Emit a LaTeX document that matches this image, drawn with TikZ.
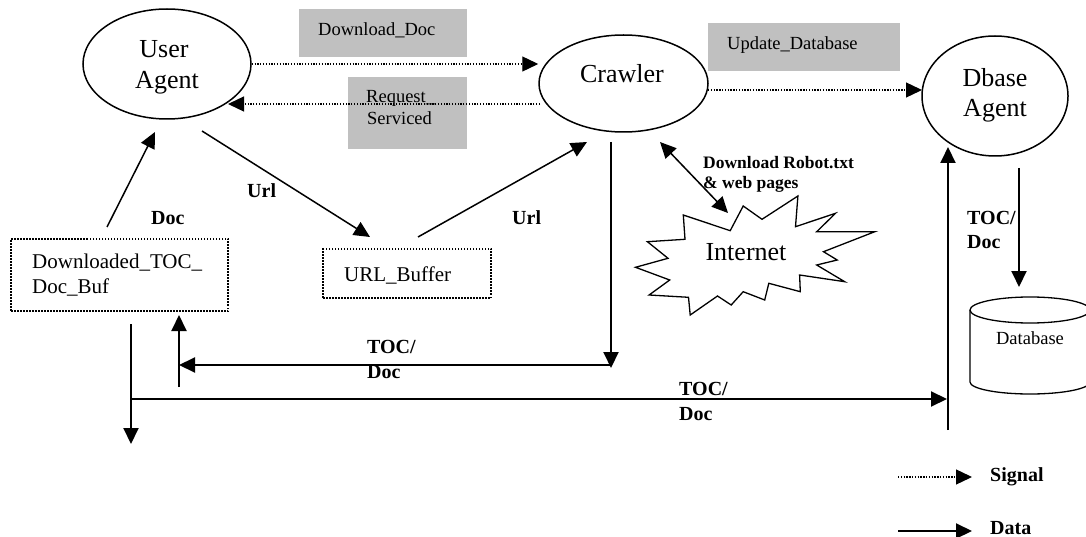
\documentclass[tikz,border=0pt]{standalone}
\usepackage{fontspec}
\setmainfont{Liberation Serif}
\usetikzlibrary{arrows.meta,shapes.geometric}
\definecolor{boxgray}{RGB}{192,192,192}
\begin{document}
\begin{tikzpicture}[x=1pt,y=-1pt,
  bigtxt/.style={font=\fontsize{26}{31}\selectfont, inner sep=0pt},
  boxtxt/.style={font=\fontsize{21}{24}\selectfont, inner sep=0pt},
  graytxt/.style={font=\fontsize{18.5}{22}\selectfont, inner sep=0pt},
  lbl/.style={font=\bfseries\fontsize{20}{24}\selectfont, inner sep=0pt},
  smalllbl/.style={font=\bfseries\fontsize{17.5}{20}\selectfont, inner sep=0pt},
  agent/.style={draw, ellipse, line width=1.5pt, inner sep=0pt},
  graybox/.style={fill=boxgray, draw=none, inner sep=0pt},
  bufbox/.style={draw, line width=1.3pt, dash pattern=on 1.5pt off 1.5pt, inner sep=0pt},
  signal/.style={line width=1.3pt, dash pattern=on 1.3pt off 1.5pt, -{Triangle[length=16pt,width=15pt]}},
  data/.style={line width=2pt, -{Triangle[length=16pt,width=15pt]}},
  thinarrow/.style={line width=1.5pt, -{Triangle[length=16pt,width=15pt]}},
]
\useasboundingbox (0,0) rectangle (1086,537);
\fill[white] (0,0) rectangle (1086,537);
\clip (0,0) rectangle (1086,537);

% gray label boxes
\node[graybox, minimum width=168pt, minimum height=48pt] (dlbox) at (383,33) {};
\node[graybox, minimum width=119pt, minimum height=72pt] (rqbox) at (407.5,113) {};
\node[graybox, minimum width=192pt, minimum height=48pt] (upbox) at (804,47) {};

% agents
\node[agent, minimum width=168pt, minimum height=110pt] (ua) at (167,64) {};
\node[agent, minimum width=169pt, minimum height=97pt] (crawler) at (623.5,83.5) {};
\node[agent, minimum width=146pt, minimum height=120pt] (dbase) at (995,96) {};
\node[bigtxt, anchor=base] (ua1) at (164,58) {User};
\node[bigtxt, anchor=base] (ua2) at (167,89) {Agent};
\node[bigtxt, anchor=base] (cr1) at (622,83) {Crawler};
\node[bigtxt, anchor=base] (db1) at (995,87) {Dbase};
\node[bigtxt, anchor=base] (db2) at (995,117) {Agent};

% gray box texts
\node[graytxt, anchor=base west] (dltxt) at (318,36) {Download\_Doc};
\node[graytxt, anchor=base west] (rq1) at (366,103) {Request\_};
\node[graytxt, anchor=base west] (rq2) at (367,125) {Serviced};
\node[graytxt, anchor=base west] (uptxt) at (727,50) {Update\_Database};

% buffers
\node[bufbox, minimum width=217pt, minimum height=72pt] (buf) at (119.5,275) {};
\node[boxtxt, anchor=base west] (buf1) at (32,269) {Downloaded\_TOC\_};
\node[boxtxt, anchor=base west] (buf2) at (32,293) {Doc\_Buf};
\node[bufbox, minimum width=168pt, minimum height=49pt] (urlbuf) at (407,273.5) {};
\node[boxtxt, anchor=base west] (urltxt) at (344,281) {URL\_Buffer};

% internet
\draw[line width=1.3pt, fill=white] (730.2,230.7) -- (743.2,206) -- (762,219.3) -- (797.9,196) -- (795.5,226.7)
  -- (835.5,213.3) -- (816.7,231.7) -- (874.8,231.7) -- (823.5,251.7) -- (837.2,260) -- (816.7,265)
  -- (844.7,281.7) -- (799.6,275) -- (800.3,291.7) -- (768.8,283.3) -- (764.7,300) -- (743.2,291.7)
  -- (731.2,305) -- (717.5,296) -- (690.2,315) -- (688.5,297.3) -- (649.1,295) -- (669.7,280)
  -- (635.5,267.3) -- (668,258.3) -- (647.4,241.7) -- (685,239.3) -- (683.3,215) -- cycle;
\node[bigtxt, anchor=base] (inet) at (746,261) {Internet};

% database cylinder
\draw[line width=1.3pt] (970,310) -- (970,382) arc[start angle=180, end angle=360, x radius=60pt, y radius=12pt] -- (1090,310);
\draw[line width=1.3pt] (1030,310) ellipse[x radius=60pt, y radius=13pt];
\node[graytxt, anchor=base] (dbtxt) at (1030,344) {Database};

% named connector points
\coordinate (s2a) at (540,104);
\coordinate (s2b) at (228,104);
\coordinate (s3a) at (708,90);
\coordinate (s3b) at (922,90);
\coordinate (docA) at (107,227);
\coordinate (docB) at (155,132);
\coordinate (u1A) at (202,131);
\coordinate (u1B) at (370,237);
\coordinate (u2A) at (418,237);
\coordinate (u2B) at (587,142);
\coordinate (rbA) at (660,142);
\coordinate (rbB) at (728,213);
\coordinate (c5A) at (611,142);
\coordinate (c5B) at (611,368);
\coordinate (c6A) at (611,365);
\coordinate (c6B) at (179,365);
\coordinate (c7A) at (179,387);
\coordinate (c7B) at (179,315);
\coordinate (c8A) at (131,324);
\coordinate (c8B) at (131,444);
\coordinate (c9A) at (131,399);
\coordinate (c9B) at (947,399);
\coordinate (c10A) at (948,430);
\coordinate (c10B) at (948,147);
\coordinate (c11A) at (1019,168);
\coordinate (c11B) at (1019,287);
\coordinate (lg1A) at (898,477);
\coordinate (lg1B) at (972,477);
\coordinate (lg2A) at (898,531);
\coordinate (lg2B) at (972,531);

% signals
\draw[signal] (ua.east) -- (ua.east -| crawler.west);
\draw[signal] (s2a) -- (s2b);
\draw[signal] (s3a) -- (s3b);

% data connectors
\draw[thinarrow] (docA) -- (docB);
\draw[thinarrow] (u1A) -- (u1B);
\draw[thinarrow] (u2A) -- (u2B);
\draw[line width=1.5pt, {Triangle[length=16pt,width=15pt]}-{Triangle[length=16pt,width=15pt]}] (rbA) -- (rbB);
\draw[data] (c5A) -- (c5B);
\draw[data] (c6A) -- (c6B);
\draw[data] (c7A) -- (c7B);
\draw[data] (c8A) -- (c8B);
\draw[data] (c9A) -- (c9B);
\draw[data] (c10A) -- (c10B);
\draw[data] (c11A) -- (c11B);

% labels
\node[lbl, anchor=base west] (l1) at (247,198) {Url};
\node[lbl, anchor=base west] (l2) at (151,225) {Doc};
\node[lbl, anchor=base west] (l3) at (512,225) {Url};
\node[smalllbl, anchor=base west] (l4) at (703,169) {Download Robot.txt};
\node[smalllbl, anchor=base west] (l5) at (703,189) {\& web pages};
\node[lbl, anchor=base west] (l6) at (367,353) {TOC/};
\node[lbl, anchor=base west] (l7) at (367,378) {Doc};
\node[lbl, anchor=base west] (l8) at (679,395) {TOC/};
\node[lbl, anchor=base west] (l9) at (679,420) {Doc};
\node[lbl, anchor=base west] (l10) at (967,225) {TOC/};
\node[lbl, anchor=base west] (l11) at (967,249) {Doc};

% legend
\draw[signal] (lg1A) -- (lg1B);
\draw[data] (lg2A) -- (lg2B);
\node[lbl, anchor=base west] (lgs) at (990,481) {Signal};
\node[lbl, anchor=base west] (lgd) at (990,534) {Data};
\end{tikzpicture}
\end{document}
